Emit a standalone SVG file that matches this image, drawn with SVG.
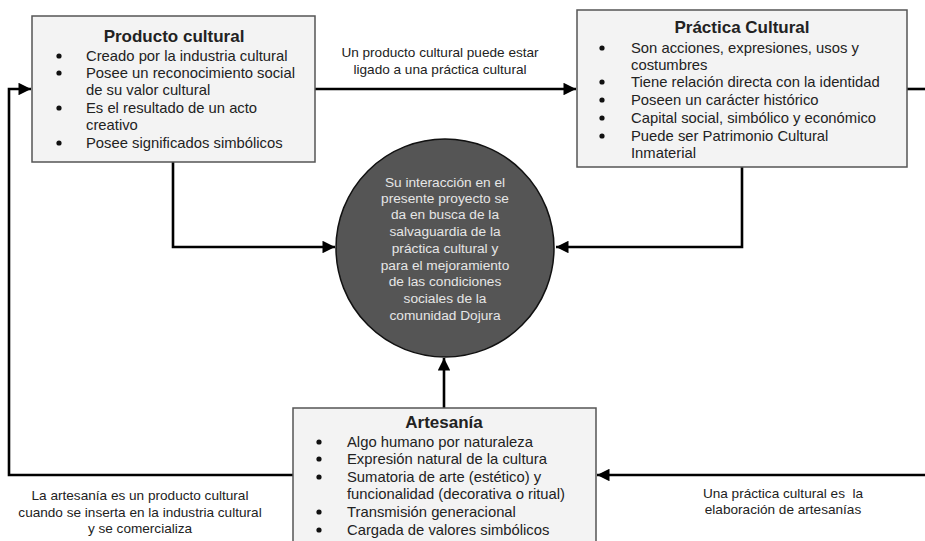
<svg xmlns="http://www.w3.org/2000/svg" width="925" height="541" viewBox="0 0 925 541">
<style>
.box{fill:#f3f3f3;stroke:#555;stroke-width:1.5}
.t{font-family:"Liberation Sans",Arial,sans-serif;fill:#222}
.title{font-size:17px;font-weight:bold;text-anchor:middle}
.item{font-size:14.8px}
.b{fill:#111}
.lbl{font-size:13.6px;text-anchor:middle}
.ct{font-family:"Liberation Sans",Arial,sans-serif;font-size:13.7px;fill:#e6e6e6;text-anchor:middle}
.c{fill:none;stroke:#000;stroke-width:2.6}
</style>
<defs>
<marker id="ah" viewBox="0 0 10 10" refX="10" refY="5" markerWidth="5.4" markerHeight="4.8" markerUnits="strokeWidth" orient="auto">
<path d="M0,0 L10,5 L0,10 z" fill="#000"/>
</marker>
</defs>
<rect width="925" height="541" fill="#fff"/>
<g id="connectors">
<path class="c" d="M315,89 H576" marker-end="url(#ah)"/>
<path class="c" d="M293,475 H9 V89 H31" marker-end="url(#ah)"/>
<path class="c" d="M925,475 H597" marker-end="url(#ah)"/>
<path class="c" d="M907,89 H925"/>
<path class="c" d="M173,162 V247 H335" marker-end="url(#ah)"/>
<path class="c" d="M742,167 V247 H556" marker-end="url(#ah)"/>
<path class="c" d="M444,408 V358" marker-end="url(#ah)"/>
<g class="t lbl">
<text x="440" y="57">Un producto cultural puede estar</text>
<text x="440" y="74">ligado a una práctica cultural</text>
<text x="140" y="500">La artesanía es un producto cultural</text>
<text x="140" y="517">cuando se inserta en la industria cultural</text>
<text x="140" y="533">y se comercializa</text>
<text x="783" y="498" xml:space="preserve">Una práctica cultural es  la</text>
<text x="783" y="514">elaboración de artesanías</text>
</g>
</g>
<g id="producto">
<rect class="box" x="32" y="16" width="283" height="146"/>
<text class="t title" x="174" y="42">Producto cultural</text>
<g class="t item">
<text x="86" y="61">Creado por la industria cultural</text>
<text x="86" y="78">Posee un reconocimiento social</text>
<text x="86" y="95">de su valor cultural</text>
<text x="86" y="113">Es el resultado de un acto</text>
<text x="86" y="130">creativo</text>
<text x="86" y="148">Posee significados simbólicos</text>
</g>
<g class="b">
<circle cx="59" cy="56" r="2.6"/>
<circle cx="59" cy="73" r="2.6"/>
<circle cx="59" cy="108" r="2.6"/>
<circle cx="59" cy="143" r="2.6"/>
</g>
</g>
<g id="practica">
<rect class="box" x="577" y="10" width="330" height="157"/>
<text class="t title" x="742" y="33">Práctica Cultural</text>
<g class="t item">
<text x="631" y="53">Son acciones, expresiones, usos y</text>
<text x="631" y="70">costumbres</text>
<text x="631" y="87">Tiene relación directa con la identidad</text>
<text x="631" y="105">Poseen un carácter histórico</text>
<text x="631" y="123">Capital social, simbólico y económico</text>
<text x="631" y="141">Puede ser Patrimonio Cultural</text>
<text x="631" y="158">Inmaterial</text>
</g>
<g class="b">
<circle cx="602" cy="48" r="2.6"/>
<circle cx="602" cy="82" r="2.6"/>
<circle cx="602" cy="100" r="2.6"/>
<circle cx="602" cy="118" r="2.6"/>
<circle cx="602" cy="136" r="2.6"/>
</g>
</g>
<g id="centro">
<circle cx="445" cy="248" r="109" fill="#555" stroke="#111" stroke-width="1.5"/>
<text class="ct" x="445" y="187">Su interacción en el</text>
<text class="ct" x="445" y="203">presente proyecto se</text>
<text class="ct" x="445" y="219">da en busca de la</text>
<text class="ct" x="445" y="236">salvaguardia de la</text>
<text class="ct" x="445" y="253">práctica cultural y</text>
<text class="ct" x="445" y="270">para el mejoramiento</text>
<text class="ct" x="445" y="286">de las condiciones</text>
<text class="ct" x="445" y="303">sociales de la</text>
<text class="ct" x="445" y="320">comunidad Dojura</text>
</g>
<g id="artesania">
<rect class="box" x="293" y="408" width="303" height="140"/>
<text class="t title" x="444" y="428">Artesanía</text>
<g class="t item">
<text x="347" y="447">Algo humano por naturaleza</text>
<text x="347" y="464">Expresión natural de la cultura</text>
<text x="347" y="482">Sumatoria de arte (estético) y</text>
<text x="347" y="499">funcionalidad (decorativa o ritual)</text>
<text x="347" y="517">Transmisión generacional</text>
<text x="347" y="535">Cargada de valores simbólicos</text>
</g>
<g class="b">
<circle cx="319" cy="442" r="2.6"/>
<circle cx="319" cy="459" r="2.6"/>
<circle cx="319" cy="477" r="2.6"/>
<circle cx="319" cy="512" r="2.6"/>
<circle cx="319" cy="530" r="2.6"/>
</g>
</g>
</svg>
